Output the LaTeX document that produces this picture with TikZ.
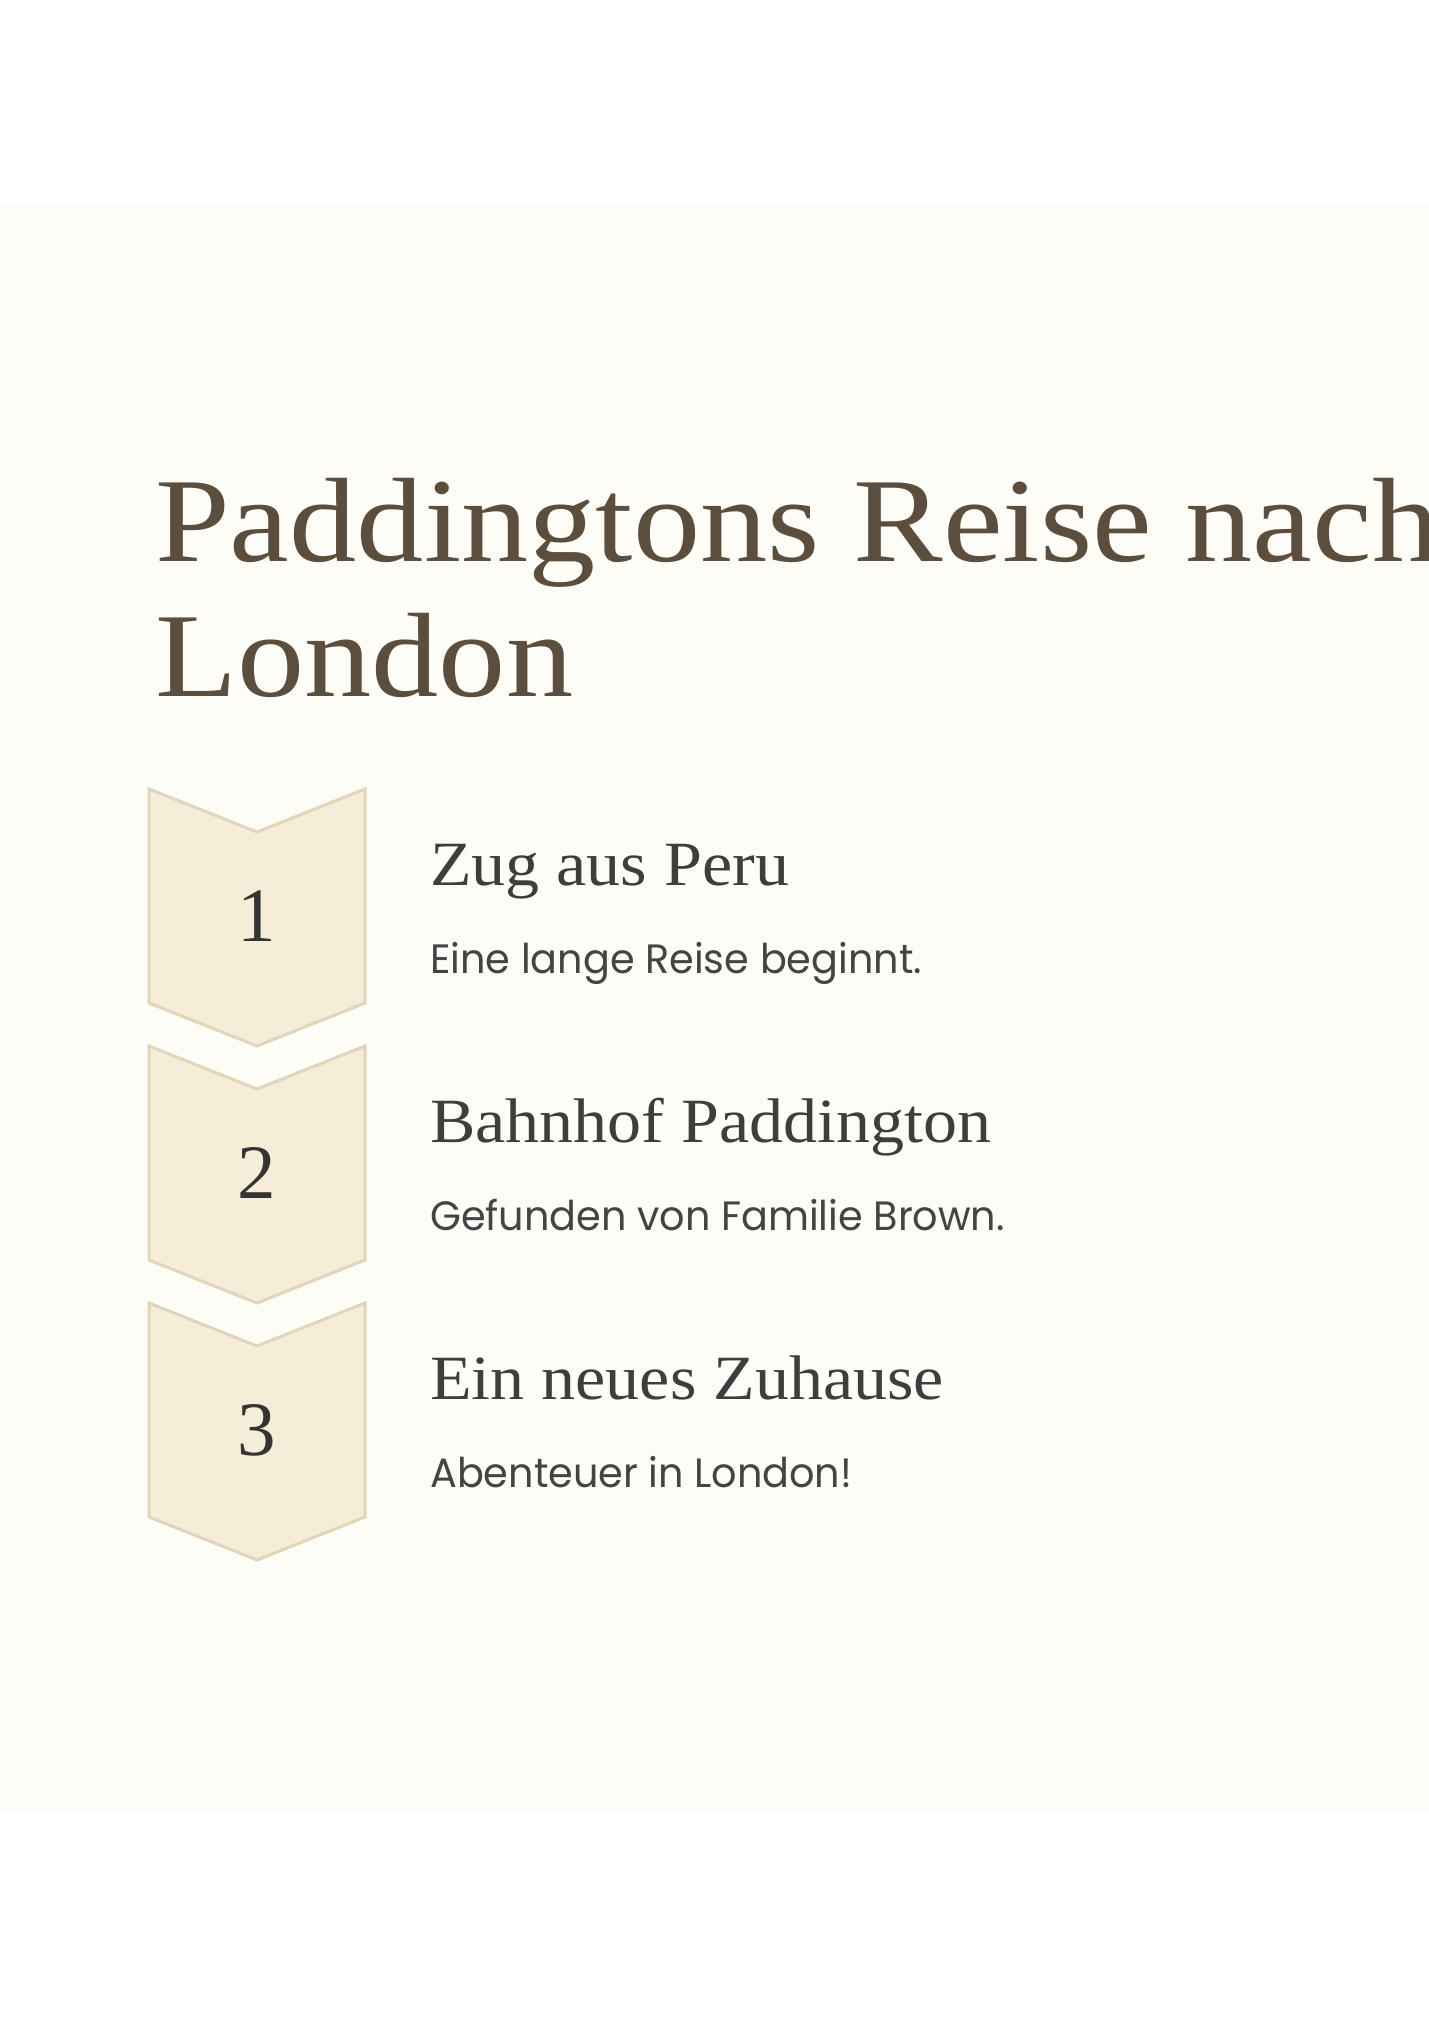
\documentclass[tikz,border=0pt]{standalone}
\usepackage{fontspec}
\newfontfamily\titlefont[FakeStretch=1.12]{Liberation Serif}
\newfontfamily\headfont[FakeStretch=1.08]{Liberation Serif}
\newfontfamily\numfont{Liberation Serif}
\newfontfamily\descfont[FakeStretch=0.97]{Poppins}
\definecolor{pagebg}{HTML}{FDFCF7}
\definecolor{titlecol}{HTML}{5C4E3D}
\definecolor{headcol}{HTML}{3E3E3E}
\definecolor{desccol}{HTML}{444444}
\definecolor{numcol}{HTML}{343434}
\definecolor{chevfill}{HTML}{F6EDD8}
\definecolor{chevline}{HTML}{E0D6BA}
\tikzset{
  chevron/.style={fill=chevfill, draw=chevline, line width=3pt, line join=miter},
  titletext/.style={anchor=base west, inner sep=0pt, text=titlecol, font=\titlefont\fontsize{120}{135}\selectfont},
  headtext/.style={anchor=base west, inner sep=0pt, text=headcol, font=\headfont\fontsize{63}{70}\selectfont},
  desctext/.style={anchor=base west, inner sep=0pt, text=desccol, font=\descfont\fontsize{41}{48}\selectfont},
  numtext/.style={anchor=base, inner sep=0pt, text=numcol, font=\numfont\fontsize{77}{80}\selectfont}
}
\begin{document}
\begin{tikzpicture}[x=1pt, y=-1pt]
  \clip (0,0) rectangle (1428,2018);
  \fill[white] (0,0) rectangle (1428,2018);
  \fill[pagebg] (0,205) rectangle (1428,1813);
  \node[titletext] (title1) at (155,561) {Paddingtons Reise nach};
  \node[titletext] (title2) at (155,696) {London};
  \foreach \i/\num/\head/\desc in {0/1/Zug aus Peru/Eine lange Reise beginnt.,
                                   1/2/Bahnhof Paddington/Gefunden von Familie Brown.,
                                   2/3/Ein neues Zuhause/Abenteuer in London!}{
    \pgfmathsetmacro{\yy}{789+257*\i}
    \draw[chevron] (149,\yy) -- (257,\yy+43) -- (365,\yy) -- (365,\yy+214)
      -- (257,\yy+257) -- (149,\yy+214) -- cycle;
    \node[numtext] (num\num) at (257,\yy+152) {\num};
    \node[headtext] (head\num) at (430,\yy+96) {\head};
    \node[desctext] (desc\num) at (430,\yy+184) {\desc};
  }
\end{tikzpicture}
\end{document}
